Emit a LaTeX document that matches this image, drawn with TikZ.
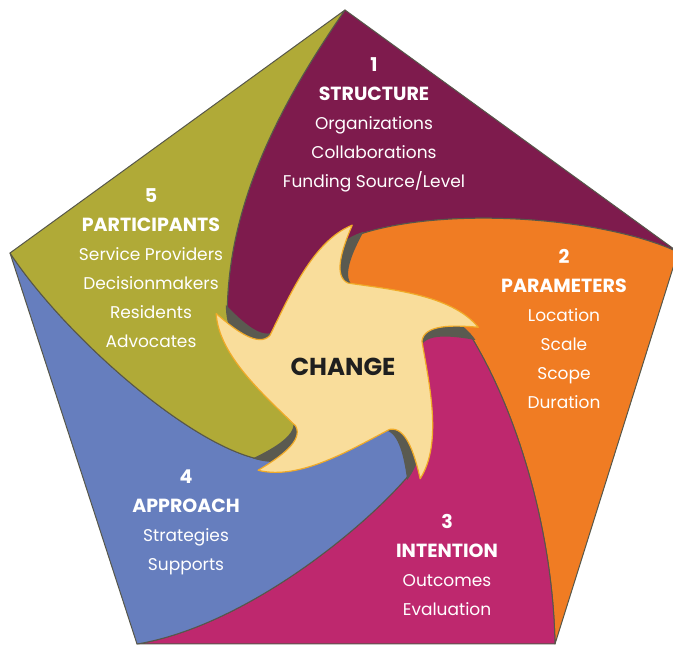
\documentclass[tikz,border=0pt]{standalone}
\usepackage{fontspec}
\setmainfont{Poppins}
\usetikzlibrary{calc}

\definecolor{structurecol}{HTML}{7E1B4D}
\definecolor{parametercol}{HTML}{F07C23}
\definecolor{intentioncol}{HTML}{BE286E}
\definecolor{approachcol}{HTML}{667EBE}
\definecolor{participantcol}{HTML}{B0AA37}
\definecolor{changecol}{HTML}{F9DD9B}
\definecolor{rimcol}{HTML}{F0AA28}
\definecolor{shadecol}{HTML}{5A5A50}
\definecolor{edgecol}{HTML}{57574A}

\newcommand{\hd}[1]{{\fontsize{19}{29}\selectfont\bfseries #1}}

\begin{document}
\begin{tikzpicture}[x=1pt, y=1pt,
  area/.style={draw=edgecol, line width=1pt, line join=round},
  areatext/.style={text=white, align=center, font=\fontsize{17}{29}\selectfont},
  starshadow/.style={fill=shadecol},
  starbody/.style={fill=changecol, draw=rimcol, line width=1.2pt, line join=round}]
\useasboundingbox (0,0) rectangle (673,646);
\clip (0,0) rectangle (673,646);

% pentagon corners and centre
\coordinate (C) at (345,283);
\coordinate (V1) at (345,636);
\coordinate (V2) at (678,394);
\coordinate (V3) at (555,2);
\coordinate (V4) at (137,2);
\coordinate (V5) at (10,393);
\foreach \k/\t in {1/87, 2/15, 3/-57, 4/-129, 5/-201} {
  \coordinate (E\k) at ($(C)+(\t-2:128)$);
  \coordinate (I\k) at ($(C)+(\t+15:100)$);
}

% five areas
\filldraw[area, fill=structurecol] (V1) -- (V2) .. controls (600,430) and (440,440) .. (E1) -- (I1) -- (C) -- (I5) -- (E5) .. controls (228,440) and (277,538) .. (V1) -- cycle;
\filldraw[area, fill=parametercol] (V2) -- (V3) .. controls (553,110) and (520,230) .. (E2) -- (I2) -- (C) -- (I1) -- (E1) .. controls (440,440) and (600,430) .. (V2) -- cycle;
\filldraw[area, fill=intentioncol] (V3) -- (V4) .. controls (245,20) and (365,118) .. (E3) -- (I3) -- (C) -- (I2) -- (E2) .. controls (520,230) and (553,110) .. (V3) -- cycle;
\filldraw[area, fill=approachcol] (V4) -- (V5) .. controls (65,310) and (190,200) .. (E4) -- (I4) -- (C) -- (I3) -- (E3) .. controls (365,118) and (245,20) .. (V4) -- cycle;
\filldraw[area, fill=participantcol] (V5) -- (V1) .. controls (277,538) and (228,440) .. (E5) -- (I5) -- (C) -- (I4) -- (E4) .. controls (190,200) and (65,310) .. (V5) -- cycle;

% pinwheel in the middle
\begin{scope}[shift={(C)}]
\fill[starshadow, rotate=-5, scale=0.96] (87:138) \foreach \t in {87,15,-57,-129,-201} { .. controls (\t+4.4:114.5) and (\t+11:88) .. (\t+0.9:80) .. controls (\t-28.4:86.3) and (\t-54.2:126.5) .. (\t-72:138) } -- cycle;
\filldraw[starbody] (87:138) \foreach \t in {87,15,-57,-129,-201} { .. controls (\t+4.4:114.5) and (\t+11:88) .. (\t+0.9:80) .. controls (\t-28.4:86.3) and (\t-54.2:126.5) .. (\t-72:138) } -- cycle;
\end{scope}

\node[areatext] (structure) at (374,521.5) {\hd{1}\\\hd{STRUCTURE}\\Organizations\\Collaborations\\Funding Source/Level};
\node[areatext] (parameters) at (564,317) {\hd{2}\\\hd{PARAMETERS}\\Location\\Scale\\Scope\\Duration};
\node[areatext] (intention) at (447,81) {\hd{3}\\\hd{INTENTION}\\Outcomes\\Evaluation};
\node[areatext] (approach) at (186,123.5) {\hd{4}\\\hd{APPROACH}\\Strategies\\Supports};
\node[areatext] (participants) at (151,378) {\hd{5}\\\hd{PARTICIPANTS}\\Service Providers\\Decisionmakers\\Residents\\Advocates};
\node[font=\fontsize{24.5}{28}\selectfont\bfseries, text=black!88] (change) at (343,279) {CHANGE};
\end{tikzpicture}
\end{document}
